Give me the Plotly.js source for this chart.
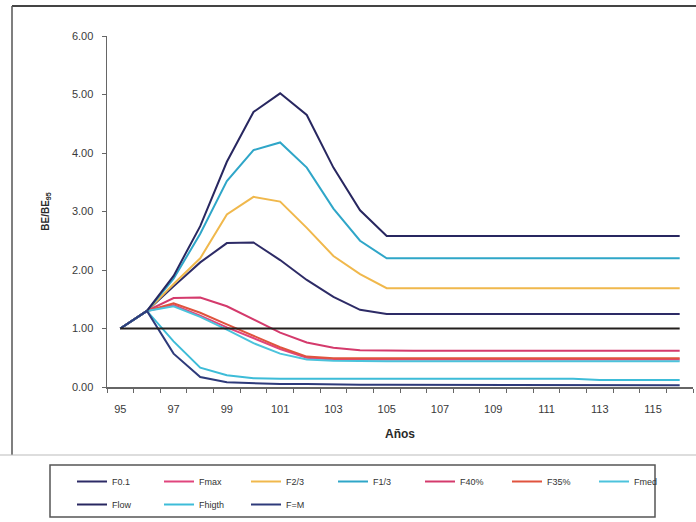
<!DOCTYPE html>
<html><head><meta charset="utf-8">
<script src="https://cdn.plot.ly/plotly-3.0.1.min.js"></script>
<style>html,body{margin:0;padding:0;background:#fff}#chart{width:696px;height:522px}</style>
</head><body><div id="chart"></div>
<script>
const years = [95,96,97,98,99,100,101,102,103,104,105,106,107,108,109,110,111,112,113,114,115,116];
const xTickLabels = [95,97,99,101,103,105,107,109,111,113,115];

const F01    = [1.00,1.30,1.72,2.13,2.46,2.47,2.17,1.83,1.54,1.32,1.25,1.25,1.25,1.25,1.25,1.25,1.25,1.25,1.25,1.25,1.25,1.25];
const Fmax   = [1.00,1.30,1.40,1.22,1.02,0.83,0.65,0.50,0.47,0.47,0.47,0.47,0.47,0.47,0.47,0.47,0.47,0.47,0.47,0.47,0.47,0.47];
const F23    = [1.00,1.30,1.76,2.20,2.95,3.25,3.17,2.72,2.24,1.93,1.69,1.69,1.69,1.69,1.69,1.69,1.69,1.69,1.69,1.69,1.69,1.69];
const F13    = [1.00,1.30,1.85,2.62,3.52,4.05,4.18,3.75,3.05,2.50,2.20,2.20,2.20,2.20,2.20,2.20,2.20,2.20,2.20,2.20,2.20,2.20];
const F40    = [1.00,1.30,1.52,1.53,1.38,1.15,0.93,0.76,0.67,0.63,0.62,0.62,0.62,0.62,0.62,0.62,0.62,0.62,0.62,0.62,0.62,0.62];
const F35    = [1.00,1.30,1.43,1.27,1.07,0.87,0.68,0.52,0.49,0.49,0.49,0.49,0.49,0.49,0.49,0.49,0.49,0.49,0.49,0.49,0.49,0.49];
const Fmed   = [1.00,1.30,1.38,1.20,0.98,0.75,0.57,0.47,0.45,0.44,0.44,0.44,0.44,0.44,0.44,0.44,0.44,0.44,0.44,0.44,0.44,0.44];
const Flow   = [1.00,1.30,1.90,2.75,3.85,4.70,5.02,4.65,3.75,3.02,2.58,2.58,2.58,2.58,2.58,2.58,2.58,2.58,2.58,2.58,2.58,2.58];
const Fhigth = [1.00,1.30,0.78,0.33,0.20,0.15,0.14,0.14,0.14,0.14,0.14,0.14,0.14,0.14,0.14,0.14,0.14,0.14,0.12,0.12,0.12,0.12];
const FeqM   = [1.00,1.30,0.57,0.17,0.08,0.06,0.05,0.05,0.04,0.04,0.04,0.04,0.03,0.03,0.03,0.03,0.03,0.03,0.03,0.03,0.03,0.03];
const ref95  = [1.00,1.00,1.00,1.00,1.00,1.00,1.00,1.00,1.00,1.00,1.00,1.00,1.00,1.00,1.00,1.00,1.00,1.00,1.00,1.00,1.00,1.00];

const series = [
  {name:'F0.1',   y:F01,    color:'#2d2b66', legend:'legend'},
  {name:'Fmax',   y:Fmax,   color:'#e0457d', legend:'legend'},
  {name:'F2/3',   y:F23,    color:'#f0b84c', legend:'legend'},
  {name:'F1/3',   y:F13,    color:'#2fa6c8', legend:'legend'},
  {name:'F40%',   y:F40,    color:'#d43a6c', legend:'legend'},
  {name:'F35%',   y:F35,    color:'#e0533e', legend:'legend'},
  {name:'Fmed',   y:Fmed,   color:'#4cc3dc', legend:'legend'},
  {name:'Flow',   y:Flow,   color:'#282760', legend:'legend2'},
  {name:'Fhigth', y:Fhigth, color:'#3dbcd8', legend:'legend2'},
  {name:'F=M',    y:FeqM,   color:'#2e3a7a', legend:'legend2'}
];

const traces = series.map(s => ({
  x: years, y: s.y, name: s.name, type:'scatter', mode:'lines',
  line:{color:s.color, width:2}, legend:s.legend
}));
traces.push({x:years, y:ref95, name:'BE95', type:'scatter', mode:'lines',
  line:{color:'#231f1c', width:2}, showlegend:false});

// pixel helpers for decorations (plot area: x 107..693, y 36..387)
const px = p => (p-107)/586;
const py = p => (387-p)/351;

const layout = {
  width:696, height:522,
  margin:{l:107, r:3, t:36, b:135},
  paper_bgcolor:'#ffffff', plot_bgcolor:'rgba(0,0,0,0)',
  font:{family:'Liberation Sans, Arial, sans-serif', color:'#3a3a3a', size:11},
  showlegend:true,
  xaxis:{
    range:[94.5,116.5], tickmode:'array', tickvals:xTickLabels, ticktext:xTickLabels.map(String),
    ticks:'', showgrid:false, zeroline:false, showline:true, linecolor:'#666', linewidth:1.5,
    ticklabelstandoff:11, tickfont:{size:11, color:'#3a3a3a'},
    minor:{tickmode:'linear', tick0:94.5, dtick:1, ticks:'outside', ticklen:4, tickcolor:'#666', showgrid:false},
    title:{text:'Años', font:{size:12, weight:'bold', color:'#2a2a2a'}, standoff:16}
  },
  yaxis:{
    range:[0,6], dtick:1, tickformat:'.2f', ticks:'outside', ticklen:4, tickcolor:'#666',
    showgrid:false, zeroline:false, showline:true, linecolor:'#666', linewidth:1.5,
    tickfont:{size:11, color:'#3a3a3a'}, ticklabelstandoff:6,
    title:{text:'BE/BE<sub>95</sub>', font:{size:10, weight:'bold', color:'#2a2a2a'}, standoff:20}
  },
  legend:{orientation:'h', x:px(72), xanchor:'left', y:py(467), yanchor:'top',
    entrywidth:42, entrywidthmode:'pixels', font:{size:9, color:'#333'},
    bgcolor:'rgba(0,0,0,0)', borderwidth:0, traceorder:'normal'},
  legend2:{orientation:'h', x:px(72), xanchor:'left', y:py(490), yanchor:'top',
    entrywidth:42, entrywidthmode:'pixels', font:{size:9, color:'#333'},
    bgcolor:'rgba(0,0,0,0)', borderwidth:0, traceorder:'normal'},
  shapes:[
    {type:'line', xref:'paper', yref:'paper', x0:px(12), x1:px(700), y0:py(6), y1:py(6), line:{color:'#444', width:2}},
    {type:'line', xref:'paper', yref:'paper', x0:px(12), x1:px(12), y0:py(6), y1:py(455), line:{color:'#555', width:1.5}},
    {type:'line', xref:'paper', yref:'paper', x0:px(0), x1:px(700), y0:py(455), y1:py(455), line:{color:'#bbb', width:1}},
    {type:'rect', xref:'paper', yref:'paper', x0:px(50), x1:px(655), y0:py(465), y1:py(517), line:{color:'#555', width:1.5}}
  ]
};

Plotly.newPlot('chart', traces, layout, {displayModeBar:false, staticPlot:true});
</script>
</body></html>
